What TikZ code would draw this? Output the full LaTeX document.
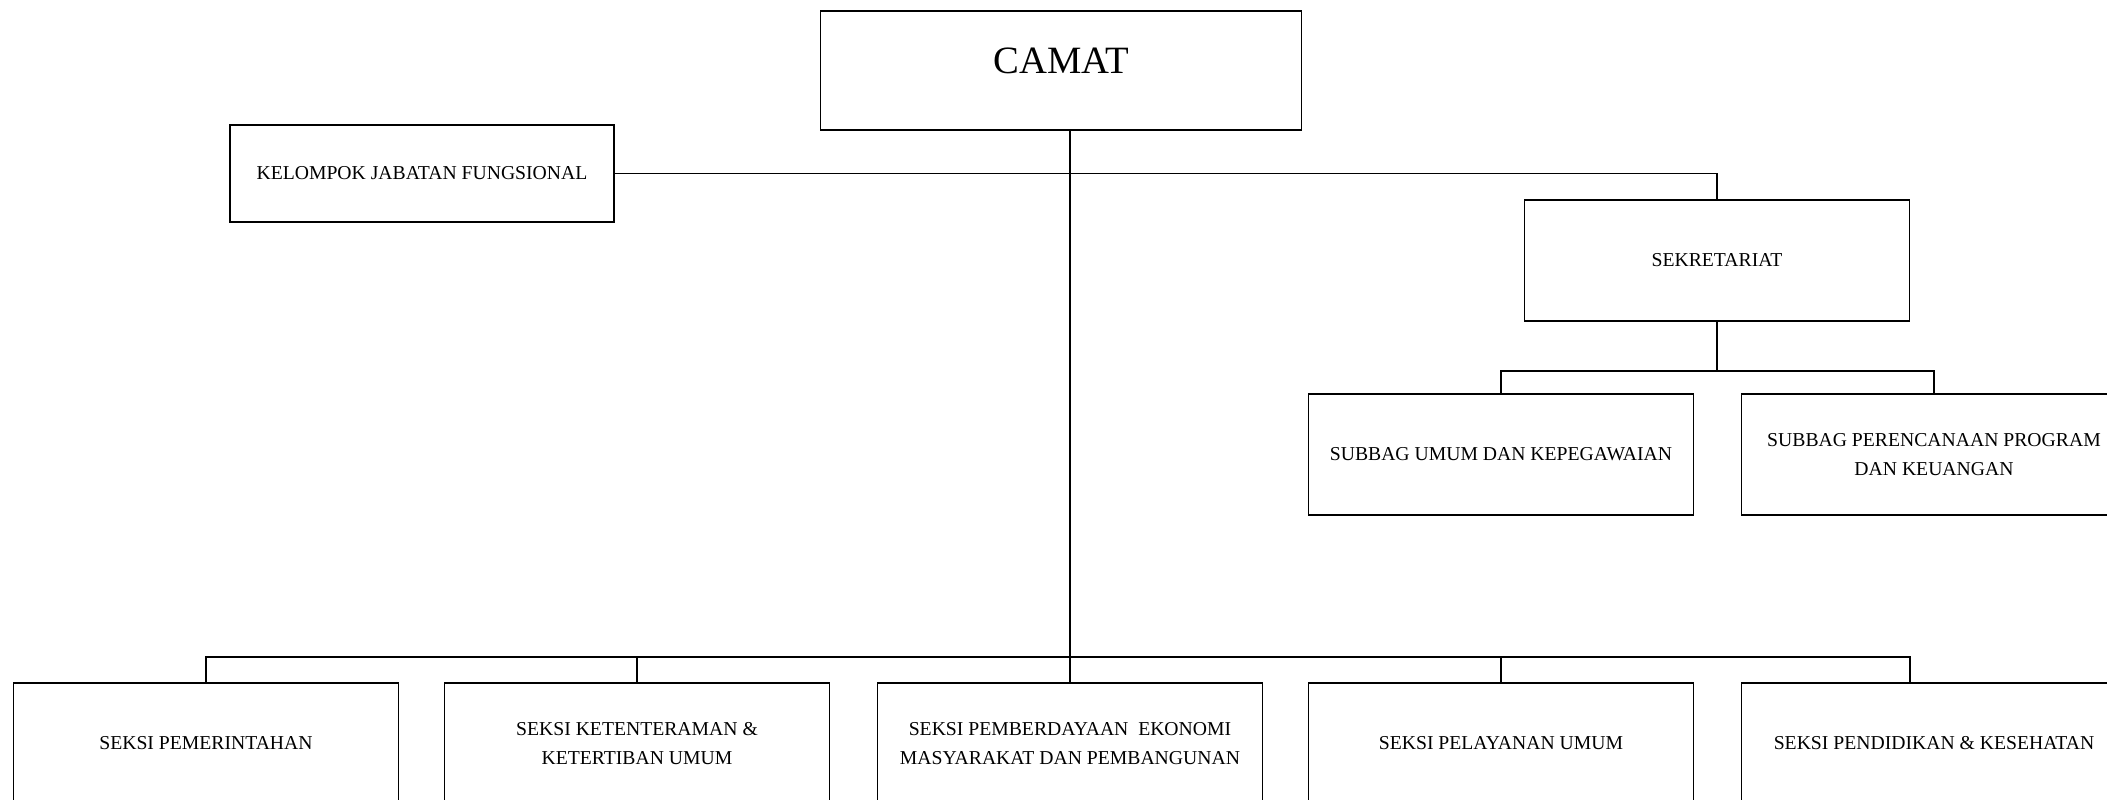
\documentclass[tikz,border=0pt]{standalone}
\usepackage{fontspec}
\setmainfont{Liberation Serif}

\tikzset{
  unit/.style={draw, black, line width=1.1pt, minimum width=7.7cm, minimum height=2.42cm, align=center, font=\fontsize{11.2}{16.8}\selectfont},
  link/.style={black, line width=0.85pt},
}

\begin{document}
\begin{tikzpicture}
\clip (0,0) rectangle (42.14,-16);

\node[unit, minimum width=9.62cm, minimum height=2.38cm, text depth=0.4cm, font=\fontsize{22}{26}\selectfont] (camat) at (21.22,-1.41) {CAMAT};
\node[unit, minimum width=7.68cm, minimum height=1.94cm] (kjf) at (8.44,-3.47) {KELOMPOK JABATAN FUNGSIONAL};

\node[unit] (sekretariat) at (34.34,-5.21) {SEKRETARIAT};
\node[unit] (umum) at (30.02,-9.09) {SUBBAG UMUM DAN KEPEGAWAIAN};
\node[unit] (perencanaan) at (38.68,-9.09) {SUBBAG PERENCANAAN PROGRAM\\DAN KEUANGAN};

\node[unit] (pemerintahan) at (4.12,-14.87) {SEKSI PEMERINTAHAN};
\node[unit] (ketenteraman) at (12.74,-14.87) {SEKSI KETENTERAMAN \&\\KETERTIBAN UMUM};
\node[unit] (ekonomi) at (21.40,-14.87) {SEKSI PEMBERDAYAAN~ EKONOMI\\MASYARAKAT DAN PEMBANGUNAN};
\node[unit] (pelayanan) at (30.02,-14.87) {SEKSI PELAYANAN UMUM};
\node[unit] (pendidikan) at (38.68,-14.87) {SEKSI PENDIDIKAN \& KESEHATAN};

\draw[link] (ekonomi.north |- camat.south) -- (ekonomi.north);
\draw[link] (kjf.east) -| (sekretariat.north);

\draw[link] (sekretariat.south) -- ++(0,-0.98) -| (umum.north);
\draw[link] (sekretariat.south) -- ++(0,-0.98) -| (perencanaan.north);

\draw[link] (ekonomi.north) ++(0,0.5) -| (pemerintahan.north);
\draw[link] (ekonomi.north) ++(0,0.5) -| (ketenteraman.north);
\draw[link] (ekonomi.north) ++(0,0.5) -| (pelayanan.north);
\draw[link] (ekonomi.north) ++(0,0.5) -| ([xshift=-0.48cm]pendidikan.north);

\end{tikzpicture}
\end{document}
